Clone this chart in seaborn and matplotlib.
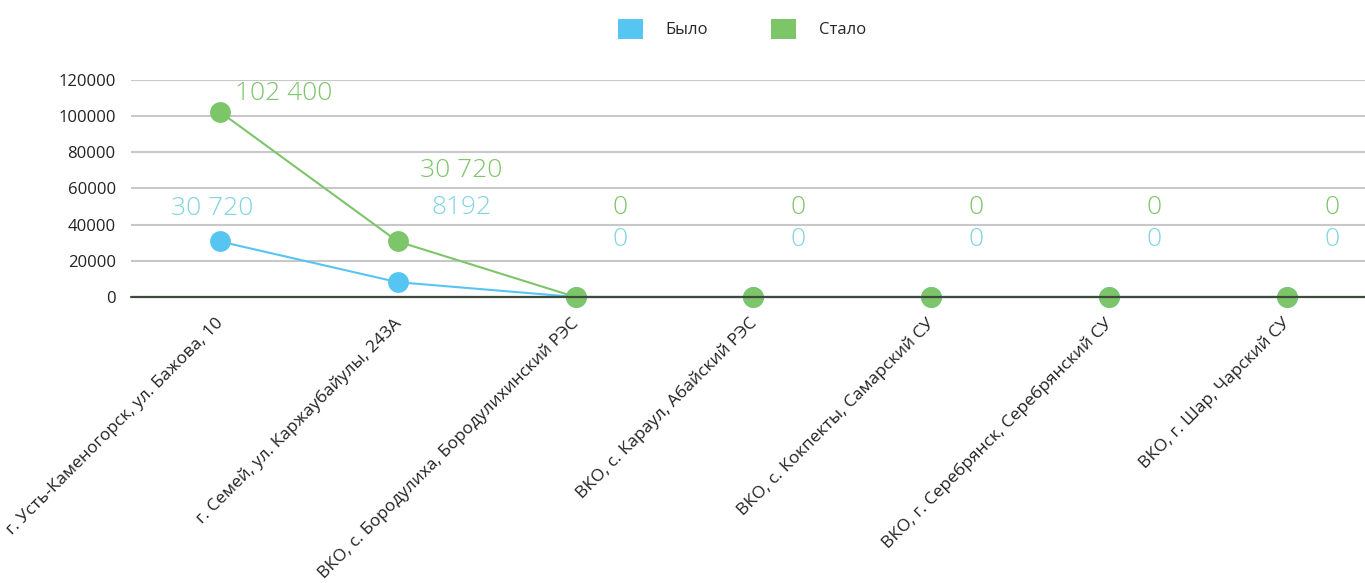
import matplotlib
matplotlib.use("Agg")
import matplotlib.pyplot as plt
import matplotlib.transforms as mtransforms
from matplotlib.patches import Patch
import seaborn as sns
import pandas as pd

categories = [
    "г. Усть-Каменогорск, ул. Бажова, 10",
    "г. Семей, ул. Каржаубайулы, 243А",
    "ВКО, с. Бородулиха, Бородулихинский РЭС",
    "ВКО, с. Караул, Абайский РЭС",
    "ВКО, с. Кокпекты, Самарский СУ",
    "ВКО, г. Серебрянск, Серебрянский СУ",
    "ВКО, г. Шар, Чарский СУ",
]
series_names = ["Было", "Стало"]
bylo = [30720, 8192, 0, 0, 0, 0, 0]
stalo = [102400, 30720, 0, 0, 0, 0, 0]
bylo_labels = ["30 720", "8192", "0", "0", "0", "0", "0"]
stalo_labels = ["102 400", "30 720", "0", "0", "0", "0", "0"]
y_ticks = [0, 20000, 40000, 60000, 80000, 100000, 120000]

# layout (pixel offsets of data labels relative to points)
bylo_off = [(-8, 33), (64, 75)] + [(45, 57)] * 5
stalo_off = [(64, 18), (63, 71)] + [(45, 89)] * 5

C_BLUE = "#56C5F2"
C_GREEN = "#7DC569"
C_BLUE_TXT = "#82D3E2"

sns.set_theme(style="white")
plt.rcParams["font.family"] = ["Open Sans", "DejaVu Sans"]

fig = plt.figure(figsize=(13.65, 5.83), dpi=100)
ax = fig.add_axes([131 / 1365, 1 - 297 / 583, 1 - 131 / 1365, (297 - 80) / 583])

pos = list(range(len(categories)))
df = pd.DataFrame({
    "pos": pos * 2,
    "value": bylo + stalo,
    "series": [series_names[0]] * len(pos) + [series_names[1]] * len(pos),
})

sns.lineplot(data=df, x="pos", y="value", hue="series",
             palette={series_names[0]: C_BLUE, series_names[1]: C_GREEN},
             marker="o", markersize=15, markeredgewidth=0, linewidth=1.5,
             sort=False, legend=False, ax=ax, clip_on=False, zorder=3)

lab_font = dict(fontweight="light", fontsize=19)
for i, (v, lab) in enumerate(zip(bylo, bylo_labels)):
    ax.annotate(lab, (i, v), xytext=bylo_off[i], textcoords="offset pixels",
                ha="center", va="center", color=C_BLUE_TXT, **lab_font)
for i, (v, lab) in enumerate(zip(stalo, stalo_labels)):
    ax.annotate(lab, (i, v), xytext=stalo_off[i], textcoords="offset pixels",
                ha="center", va="center", color=C_GREEN, **lab_font)

ax.axhline(0, color="#3e4a3e", linewidth=1.6, zorder=5, clip_on=False)

ax.set_xlim(-0.5, 6.44)
ax.set_ylim(0, 120000)
ax.set_yticks(y_ticks)
ax.set_yticklabels([str(t) for t in y_ticks])
ax.grid(axis="y", color="#C8C8C8", linewidth=1.5)
ax.grid(axis="x", visible=False)
ax.set_axisbelow(True)
for s in ax.spines.values():
    s.set_visible(False)
ax.tick_params(axis="y", length=0, pad=11, labelsize=12, labelcolor="#222222")
ax.tick_params(axis="x", length=0, pad=13, labelsize=12.5, labelcolor="#222222")
ax.set_xticks(pos)
ax.set_xticklabels(categories, rotation=45, ha="right", va="top")
shift = mtransforms.ScaledTranslation(7 / 100, 0, fig.dpi_scale_trans)
for lbl in ax.get_xticklabels():
    lbl.set_transform(lbl.get_transform() + shift)
ax.set_xlabel("")
ax.set_ylabel("")

handles = [Patch(facecolor=C_BLUE, edgecolor="none"), Patch(facecolor=C_GREEN, edgecolor="none")]
fig.legend(handles, series_names, loc="center", bbox_to_anchor=(742 / 1365, 1 - 29 / 583),
           ncol=2, frameon=False, fontsize=12, handlelength=1.5, handleheight=1.5,
           columnspacing=3.8, handletextpad=1.38)

fig.savefig("out.png", dpi=100)
